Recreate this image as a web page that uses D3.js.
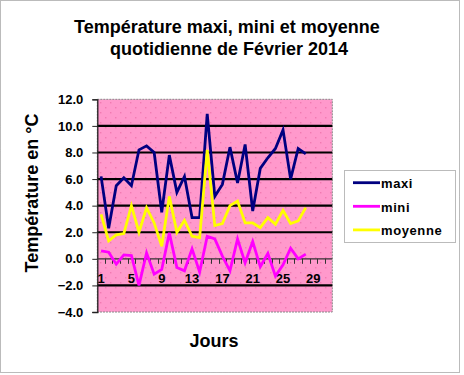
<!DOCTYPE html>
<html>
<head>
<meta charset="utf-8">
<script src="https://d3js.org/d3.v7.min.js"></script>
<style>
  body { margin: 0; background: #fff; }
  text { font-family: 'Liberation Sans', Arial, sans-serif; }
</style>
</head>
<body>
<div id="chart"></div>
<script>

// daily values for February 2014 (days 29-31 stay empty on the axis)
var days = d3.range(1, 32)
var tickDays = [1, 5, 9, 13, 17, 21, 25, 29]
var yTicks = [-4, -2, 0, 2, 4, 6, 8, 10, 12]

var maxi = [6.2, 2.3, 5.5, 6.1, 5.5, 8.2, 8.5, 8.0, 3.5, 7.8, 5.0, 6.2, 3.1, 3.1,
  10.9, 4.7, 5.6, 8.4, 5.7, 8.6, 3.6, 6.8, 7.6, 8.3, 9.7, 6.0, 8.3, 7.9]
var mini = [0.6, 0.5, -0.4, 0.3, 0.25, -2.0, 0.45, -1.15, -0.8, 1.95, -0.65, -0.9, 0.75, -1.0,
  1.7, 1.5, 0.2, -0.9, 1.5, -0.3, 1.3, -0.6, 0.4, -1.3, -0.45, 0.8, 0.0, 0.35]
var moyenne = [3.35, 1.35, 1.8, 1.9, 4.0, 2.0, 3.85, 2.7, 0.95, 4.7, 2.0, 2.9, 1.7, 1.6,
  8.2, 2.5, 2.65, 4.0, 4.35, 2.7, 2.7, 2.35, 3.1, 2.6, 3.65, 2.65, 2.85, 3.85]

var seriesNames = ['maxi', 'mini', 'moyenne']
var seriesColors = ['#000080', '#FF00FF', '#FFFF00']
var seriesValues = [maxi, mini, moyenne]

var svgWidth = 464
var svgHeight = 375

// plot area
var plot = { left: 97.3, right: 332.3, top: 99.3, bottom: 312 }

var svg = d3
  .select('#chart')
  .append('svg')
  .attr('width', svgWidth)
  .attr('height', svgHeight)

// dotted pink fill pattern
var pattern = svg.append('defs')
  .append('pattern')
  .attr('id', 'dots')
  .attr('patternUnits', 'userSpaceOnUse')
  .attr('width', 10)
  .attr('height', 10)
  .attr('x', plot.left)
  .attr('y', plot.top)
pattern.append('rect').attr('width', 10).attr('height', 10).attr('fill', '#FF99CC')
pattern.append('rect').attr('x', 3).attr('y', 3).attr('width', 1).attr('height', 1).attr('fill', '#E55A96')
pattern.append('rect').attr('x', 8).attr('y', 8).attr('width', 1).attr('height', 1).attr('fill', '#E55A96')

// outer frame
svg.append('rect')
  .attr('x', 0.5)
  .attr('y', 0.5)
  .attr('width', 459)
  .attr('height', 372)
  .attr('fill', '#fff')
  .attr('stroke', '#777')
  .attr('stroke-dasharray', '1,1')

// scales
var xScale = d3.scaleBand()
  .domain(days)
  .range([plot.left, plot.right])

var yScale = d3.scaleLinear()
  .domain([-4, 12])
  .range([plot.bottom, plot.top])

// background
svg.append('rect')
  .attr('x', plot.left)
  .attr('y', plot.top)
  .attr('width', plot.right - plot.left)
  .attr('height', plot.bottom - plot.top)
  .attr('fill', 'url(#dots)')
  .attr('stroke', '#888')
  .attr('stroke-dasharray', '2,1')

// gridlines
svg.append('g')
  .selectAll('line')
  .data(yTicks.filter(d => d !== 0 && d !== 12 && d !== -4))
  .enter()
  .append('line')
  .attr('x1', plot.left)
  .attr('x2', plot.right)
  .attr('y1', d => yScale(d))
  .attr('y2', d => yScale(d))
  .attr('stroke', '#000')
  .attr('stroke-width', 2.2)

// y axis
var leftAxis = d3.axisLeft(yScale)
  .tickValues(yTicks)
  .tickFormat(d3.format('.1f'))
  .tickSize(5)
  .tickPadding(9)

var yAxis = svg.append('g')
  .attr('transform', `translate(${plot.left}, 0)`)
  .call(leftAxis)
yAxis.select('.domain').attr('stroke', '#222').attr('stroke-width', 1.3)
yAxis.selectAll('.tick line').attr('stroke', '#222')
yAxis.selectAll('text')
  .attr('font-size', 13)
  .attr('font-weight', 'bold')
  .attr('fill', '#000')

// x axis on the zero line
var y0 = yScale(0)
svg.append('line')
  .attr('x1', plot.left)
  .attr('x2', plot.right)
  .attr('y1', y0)
  .attr('y2', y0)
  .attr('stroke', '#333')
  .attr('stroke-width', 1.2)

// small ticks between days
svg.append('g')
  .selectAll('line')
  .data(days.slice(1))
  .enter()
  .append('line')
  .attr('x1', d => Math.round(xScale(d)) + 0.5)
  .attr('x2', d => Math.round(xScale(d)) + 0.5)
  .attr('y1', y0)
  .attr('y2', y0 + 5)
  .attr('stroke', '#333')

var bottomAxis = d3.axisBottom(xScale)
  .tickValues(tickDays)
  .tickSize(0)
  .tickPadding(15)

var xAxis = svg.append('g')
  .attr('transform', `translate(0, ${y0})`)
  .call(bottomAxis)
xAxis.select('.domain').remove()
xAxis.selectAll('text')
  .attr('font-size', 13)
  .attr('font-weight', 'bold')
  .attr('fill', '#000')

// lines
var line = d3.line()
  .x((d, i) => xScale(days[i]) + xScale.bandwidth() / 2)
  .y(d => yScale(d))

svg.append('g')
  .selectAll('path')
  .data(seriesValues)
  .enter()
  .append('path')
  .attr('d', d => line(d))
  .attr('fill', 'none')
  .attr('stroke', (d, i) => seriesColors[i])
  .attr('stroke-width', 2.8)
  .attr('stroke-linejoin', 'miter')

// titles
var title = svg.append('text')
  .attr('text-anchor', 'middle')
  .attr('font-size', 18)
  .attr('font-weight', 'bold')
title.append('tspan').attr('x', 227).attr('y', 32.5).text('Température maxi, mini et moyenne')
title.append('tspan').attr('x', 229).attr('y', 55).text('quotidienne de Février 2014')

svg.append('text')
  .attr('transform', 'translate(37.5, 193) rotate(-90)')
  .attr('text-anchor', 'middle')
  .attr('font-size', 18)
  .attr('font-weight', 'bold')
  .text('Température en °C')

svg.append('text')
  .attr('x', 214)
  .attr('y', 346.5)
  .attr('text-anchor', 'middle')
  .attr('font-size', 18)
  .attr('font-weight', 'bold')
  .text('Jours')

// legend
var legend = svg.append('g')
legend.append('rect')
  .attr('x', 344.5)
  .attr('y', 170.5)
  .attr('width', 111)
  .attr('height', 72)
  .attr('fill', '#fff')
  .attr('stroke', '#777')
  .attr('stroke-dasharray', '1,1')

var items = legend.selectAll('.item')
  .data(seriesNames)
  .enter()
  .append('g')
  .attr('class', 'item')
  .attr('transform', (d, i) => `translate(0, ${182.7 + i * 23.6})`)

items.append('line')
  .attr('x1', 353)
  .attr('x2', 380)
  .attr('stroke', (d, i) => seriesColors[i])
  .attr('stroke-width', 2.8)

items.append('text')
  .attr('x', 381)
  .attr('y', 5.3)
  .attr('font-size', 13)
  .attr('font-weight', 'bold')
  .attr('letter-spacing', 0.6)
  .text(d => d)

</script>
</body>
</html>
